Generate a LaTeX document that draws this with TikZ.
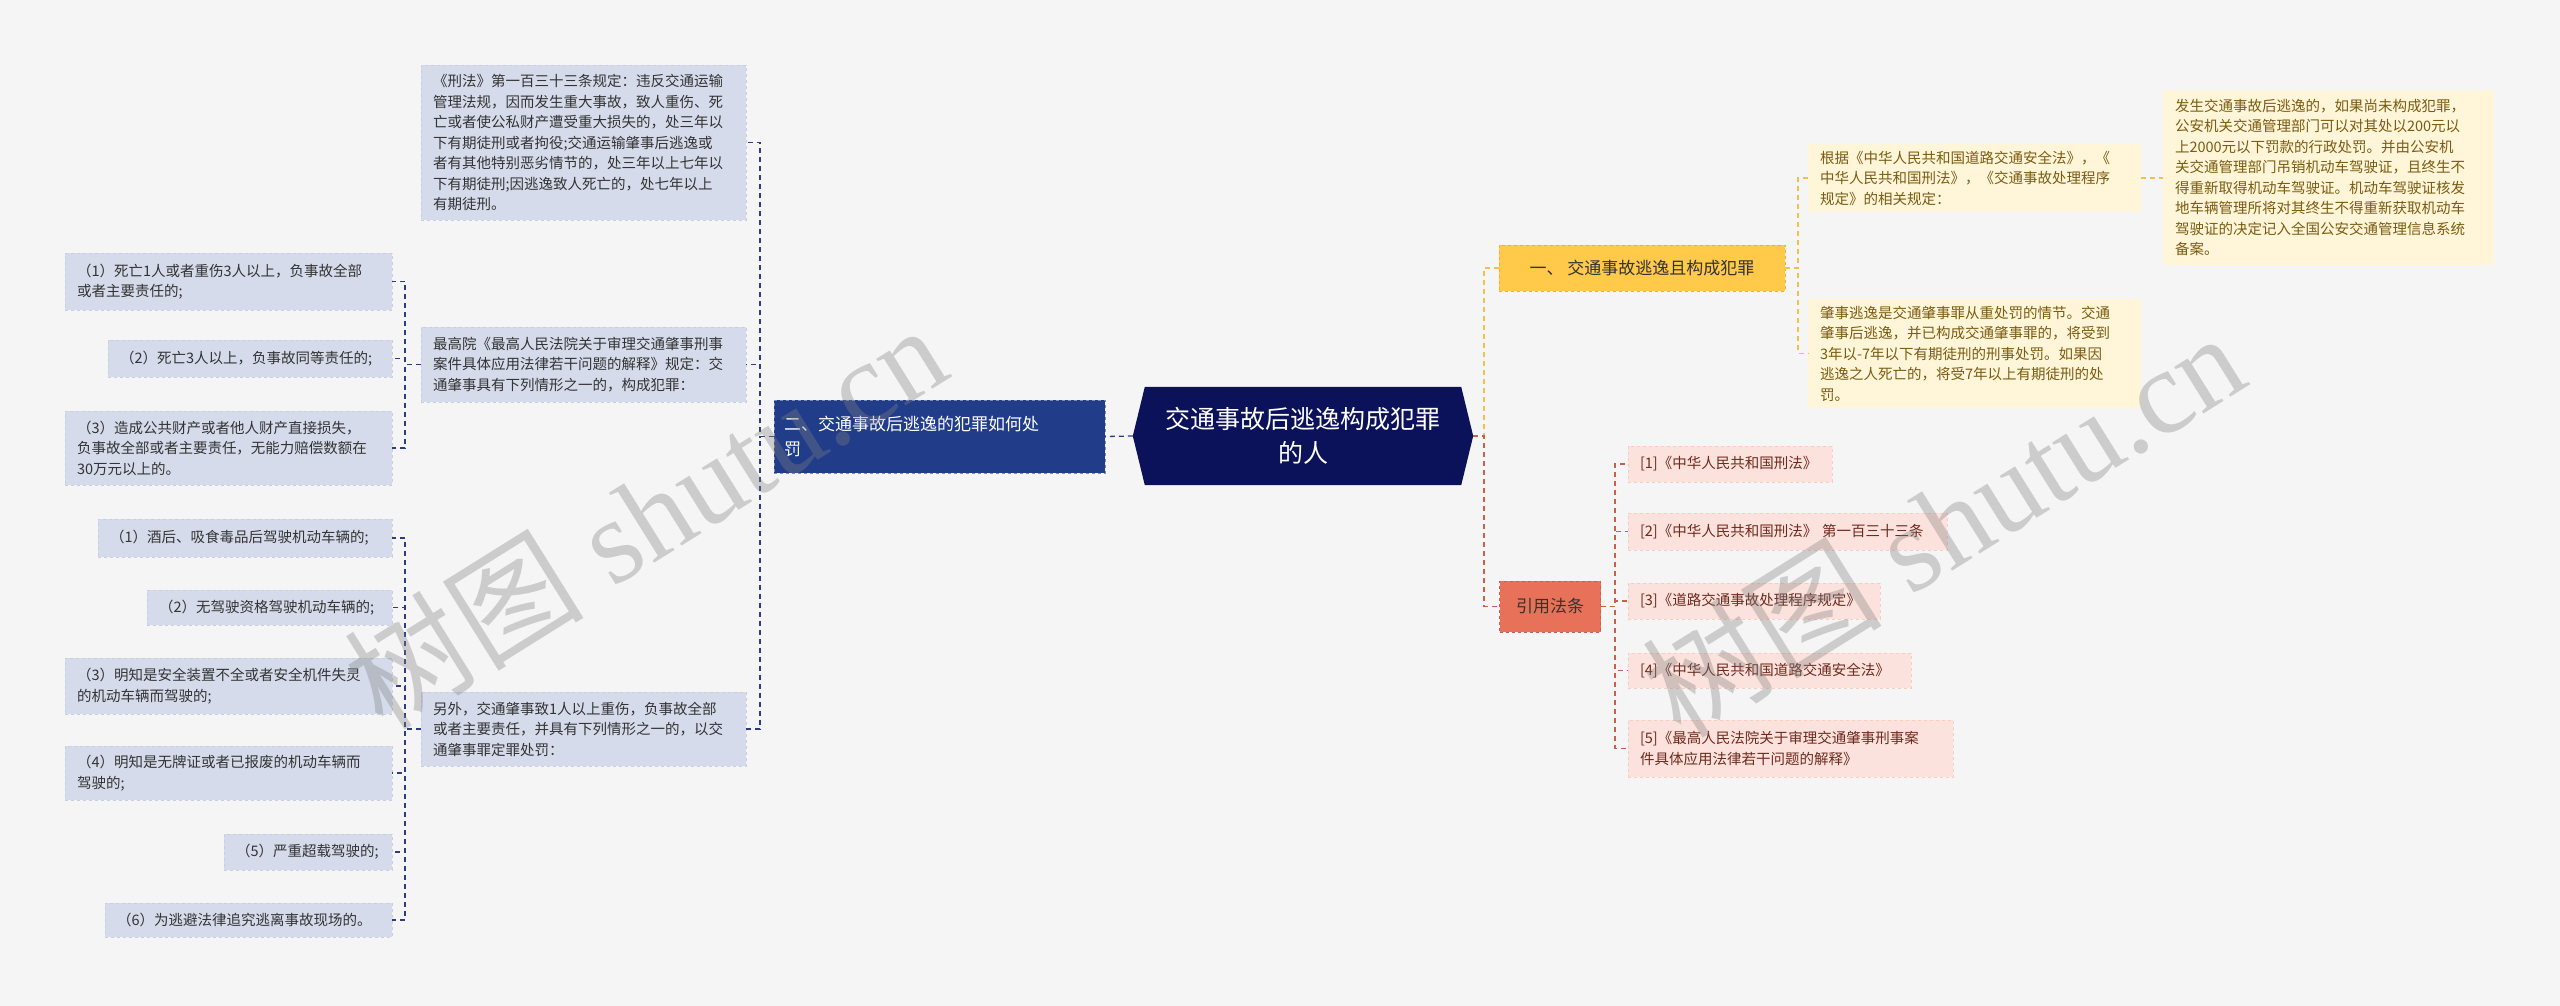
\documentclass[tikz,border=0pt]{standalone}
\usepackage{fontspec}
\setmainfont{Noto Sans CJK SC}
\newfontfamily\wmfont{Liberation Serif}
\newfontfamily\wmcjk{Noto Sans CJK SC}
\usetikzlibrary{backgrounds}
\definecolor{bg}{HTML}{F5F5F5}
\definecolor{navy}{HTML}{0B1259}
\definecolor{blueL}{HTML}{213D8A}
\definecolor{blueLine}{HTML}{2C3E80}
\definecolor{leafB}{HTML}{D5DBEB}
\definecolor{leafBline}{HTML}{C8CFE2}
\definecolor{yel}{HTML}{FFC94A}
\definecolor{yelLine}{HTML}{F2C04E}
\definecolor{leafY}{HTML}{FFF5D8}
\definecolor{txtY}{HTML}{7A5C12}
\definecolor{red}{HTML}{E87259}
\definecolor{redLine}{HTML}{C8604A}
\definecolor{leafR}{HTML}{FCE2DC}
\definecolor{txtR}{HTML}{6E2A1E}
\tikzset{
  every node/.style={font=\fontsize{14.5}{20.5}\selectfont, inner sep=0pt},
  leafb/.style={fill=leafB, draw=leafBline, dashed, align=left, text=black!80},
  leafy/.style={fill=leafY, align=left, text=txtY},
  leafr/.style={fill=leafR, draw=leafR!80!red, dashed, align=left, text=txtR},
  lb/.style={draw=blueLine, dash pattern=on 5pt off 4pt, line width=1.3pt},
  ly/.style={draw=yelLine, dash pattern=on 5pt off 4pt, line width=1.3pt},
  lr/.style={draw=redLine, dash pattern=on 5pt off 4pt, line width=1.3pt},
  wm/.style={text=gray, opacity=0.35, rotate=32, font=\fontsize{120}{120}\selectfont},
}
\begin{document}
\begin{tikzpicture}[x=1pt,y=-1pt]
\def\bx#1#2#3#4#5#6#7{\node[#1, minimum width=#5-#3, minimum height=#6-#4, text width=#5-#3-24] (#2) at ({(#3+#5)/2},{(#4+#6)/2}) {#7};}
\useasboundingbox (0,0) rectangle (2560,1006);
\node[text=white, align=center, minimum width=340, minimum height=98, font=\fontsize{25}{34}\selectfont] (c) at (1303,436) {交通事故后逃逸构成犯罪\\的人};
\begin{pgfonlayer}{background}
\fill[bg] (0,0) rectangle (2560,1006);
\fill[navy] ([xshift=12]c.north west) -- (c.west) -- ([xshift=12]c.south west) -- ([xshift=-12]c.south east) -- (c.east) -- ([xshift=-12]c.north east) -- cycle;
\end{pgfonlayer}
\node[fill=blueL, draw=blueLine!60!white, dashed, text=white, align=left, minimum width=331, minimum height=73, text width=311, font=\fontsize{17}{25}\selectfont] (L) at (939.5,436.5) {二、交通事故后逃逸的犯罪如何处\\罚};
\node[fill=yel, draw=yelLine!70!orange, dashed, text=black!80, minimum width=286, minimum height=46, font=\fontsize{17}{22}\selectfont] (R1) at (1642,268) {一、 交通事故逃逸且构成犯罪};
\node[fill=red, draw=redLine, dashed, text=black!80, minimum width=101, minimum height=51, font=\fontsize{17}{22}\selectfont] (R2) at (1550,606.5) {引用法条};
\bx{leafb}{A}{421}{65}{746}{220}{《刑法》第一百三十三条规定：违反交通运输\\管理法规，因而发生重大事故，致人重伤、死\\亡或者使公私财产遭受重大损失的，处三年以\\下有期徒刑或者拘役;交通运输肇事后逃逸或\\者有其他特别恶劣情节的，处三年以上七年以\\下有期徒刑;因逃逸致人死亡的，处七年以上\\有期徒刑。}
\bx{leafb}{B}{421}{327}{746}{402}{最高院《最高人民法院关于审理交通肇事刑事\\案件具体应用法律若干问题的解释》规定：交\\通肇事具有下列情形之一的，构成犯罪：}
\bx{leafb}{C}{421}{692}{746}{766}{另外，交通肇事致1人以上重伤，负事故全部\\或者主要责任，并具有下列情形之一的，以交\\通肇事罪定罪处罚：}
\bx{leafb}{b1}{65}{253}{392}{310}{（1）死亡1人或者重伤3人以上，负事故全部\\或者主要责任的;}
\bx{leafb}{b2}{108}{340}{392}{377}{（2）死亡3人以上，负事故同等责任的;}
\bx{leafb}{b3}{65}{411}{392}{485}{（3）造成公共财产或者他人财产直接损失，\\负事故全部或者主要责任，无能力赔偿数额在\\30万元以上的。}
\bx{leafb}{c1}{98}{519}{392}{557}{（1）酒后、吸食毒品后驾驶机动车辆的;}
\bx{leafb}{c2}{147}{590}{392}{625}{（2）无驾驶资格驾驶机动车辆的;}
\bx{leafb}{c3}{65}{658}{392}{714}{（3）明知是安全装置不全或者安全机件失灵\\的机动车辆而驾驶的;}
\bx{leafb}{c4}{65}{746}{392}{800}{（4）明知是无牌证或者已报废的机动车辆而\\驾驶的;}
\bx{leafb}{c5}{224}{834}{392}{870}{（5）严重超载驾驶的;}
\bx{leafb}{c6}{105}{903}{392}{937}{（6）为逃避法律追究逃离事故现场的。}
\bx{leafy}{y1}{1808}{144}{2141}{212}{根据《中华人民共和国道路交通安全法》，《\\中华人民共和国刑法》，《交通事故处理程序\\规定》的相关规定：}
\bx{leafy}{y2}{1808}{299}{2141}{408}{肇事逃逸是交通肇事罪从重处罚的情节。交通\\肇事后逃逸，并已构成交通肇事罪的，将受到\\3年以-7年以下有期徒刑的刑事处罚。如果因\\逃逸之人死亡的，将受7年以上有期徒刑的处\\罚。}
\bx{leafy}{y3}{2163}{90}{2494}{265}{发生交通事故后逃逸的，如果尚未构成犯罪，\\公安机关交通管理部门可以对其处以200元以\\上2000元以下罚款的行政处罚。并由公安机\\关交通管理部门吊销机动车驾驶证，且终生不\\得重新取得机动车驾驶证。机动车驾驶证核发\\地车辆管理所将对其终生不得重新获取机动车\\驾驶证的决定记入全国公安交通管理信息系统\\备案。}
\bx{leafr}{r1}{1628}{446}{1832}{482}{[1]《中华人民共和国刑法》}
\bx{leafr}{r2}{1628}{513}{1947}{550}{[2]《中华人民共和国刑法》 第一百三十三条}
\bx{leafr}{r3}{1628}{583}{1880}{619}{[3]《道路交通事故处理程序规定》}
\bx{leafr}{r4}{1628}{653}{1911}{688}{[4]《中华人民共和国道路交通安全法》}
\bx{leafr}{r5}{1628}{720}{1953}{777}{[5]《最高人民法院关于审理交通肇事刑事案\\件具体应用法律若干问题的解释》}
\coordinate (busL) at (760,0);
\coordinate (busB) at (405,0);
\coordinate (busR) at (1484,0);
\coordinate (busY) at (1798,0);
\coordinate (busE) at (1615,0);
\draw[lb] (c.west) -- (L.east);
\foreach \t in {A,B,C} \draw[lb] (L.west) -- (L.west -| busL) |- (\t.east);
\foreach \t in {b1,b2,b3} \draw[lb] (B.west) -- (B.west -| busB) |- (\t.east);
\foreach \t in {c1,c2,c3,c4,c5,c6} \draw[lb] (C.west) -- (C.west -| busB) |- (\t.east);
\draw[ly] (c.east) -- (c.east -| busR) |- (R1.west);
\draw[lr] (c.east) -- (c.east -| busR) |- (R2.west);
\foreach \t in {y1,y2} \draw[ly] (R1.east) -- (R1.east -| busY) |- (\t.west);
\draw[ly] (y1.east) -- (y3.west |- y1.east);
\foreach \t in {r1,r2,r3,r4,r5} \draw[lr] (R2.east) -- (R2.east -| busE) |- (\t.west);
\node[wm] (wm1) at (645,515) {\wmcjk 树图\wmfont\ shutu.cn};
\node[wm] (wm2) at (1943,523) {\wmcjk 树图\wmfont\ shutu.cn};
\end{tikzpicture}
\end{document}
